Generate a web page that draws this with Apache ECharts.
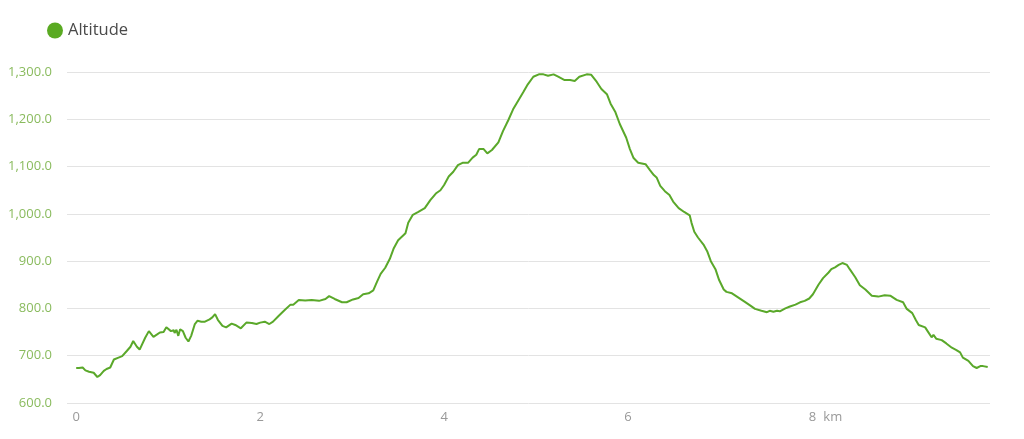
<!DOCTYPE html>
<html>
<head>
<meta charset="utf-8">
<script src="https://cdn.jsdelivr.net/npm/echarts@6/dist/echarts.min.js"></script>
<style>
html,body{margin:0;padding:0;background:#fff;}
#chart{width:1024px;height:439px;}
</style>
</head>
<body>
<div id="chart"></div>
<script>
var seriesName = 'Altitude';
var distanceKm = [
0.00,0.03,0.07,0.10,0.14,0.16,0.19,0.23,0.26,0.30,0.33,0.37,0.41,0.42,0.46,0.50,0.52,0.55,0.59,0.62,
0.66,0.69,0.71,0.75,0.79,0.81,0.84,0.88,0.91,0.95,0.98,1.00,1.03,1.06,1.07,1.09,1.11,1.13,1.16,1.19,
1.22,1.25,1.29,1.32,1.36,1.40,1.45,1.48,1.51,1.54,1.59,1.63,1.69,1.73,1.79,1.85,1.91,1.96,2.00,2.05,
2.10,2.14,2.20,2.27,2.33,2.36,2.42,2.49,2.56,2.64,2.71,2.75,2.81,2.89,2.94,3.01,3.07,3.12,3.18,3.23,
3.27,3.31,3.36,3.41,3.45,3.50,3.58,3.61,3.66,3.72,3.79,3.85,3.91,3.96,4.00,4.05,4.10,4.15,4.20,4.26,
4.31,4.35,4.38,4.43,4.47,4.52,4.59,4.64,4.70,4.75,4.81,4.86,4.91,4.97,5.03,5.08,5.13,5.19,5.24,5.31,
5.37,5.42,5.47,5.55,5.60,5.66,5.71,5.77,5.81,5.86,5.91,5.98,6.02,6.06,6.11,6.19,6.24,6.28,6.31,6.35,
6.40,6.45,6.49,6.55,6.61,6.67,6.69,6.72,6.76,6.82,6.86,6.90,6.95,6.99,7.04,7.07,7.13,7.20,7.27,7.33,
7.38,7.45,7.51,7.54,7.58,7.62,7.65,7.71,7.76,7.82,7.87,7.92,7.97,8.01,8.07,8.12,8.18,8.21,8.25,8.29,
8.33,8.38,8.41,8.47,8.52,8.58,8.65,8.72,8.79,8.85,8.92,8.99,9.03,9.09,9.13,9.16,9.23,9.26,9.30,9.32,
9.35,9.41,9.46,9.52,9.57,9.61,9.64,9.70,9.75,9.79,9.83,9.86,9.91
];
var altitudeM = [
674,674,675,669,666,667,664,655,659,668,672,675,692,696,696,699,699,710,719,731,
719,713,717,738,752,749,740,745,749,750,760,757,752,754,748,755,742,756,752,738,
730,742,767,774,772,772,777,781,788,776,763,760,768,765,758,770,769,767,770,772,
767,772,784,797,808,808,818,817,818,816,820,826,820,813,813,819,822,830,832,838,
856,873,886,905,926,944,959,981,998,1004,1012,1029,1043,1050,1061,1079,1089,1103,1108,1108,
1119,1125,1137,1137,1128,1135,1151,1175,1199,1221,1241,1257,1274,1290,1295,1295,1292,1295,1290,1283,
1283,1281,1290,1295,1294,1279,1264,1253,1233,1216,1190,1161,1137,1118,1108,1105,1092,1082,1077,1059,
1048,1040,1026,1012,1004,997,981,962,950,935,921,900,883,860,840,835,832,823,814,806,
799,795,792,795,793,795,794,800,804,808,813,816,821,830,850,864,876,883,887,892,
896,892,883,866,849,840,827,825,828,827,818,813,799,790,775,765,760,751,739,744,
736,733,726,717,712,707,696,689,678,674,678,678,676
];
var xTickValues = [0, 2, 4, 6, 8];
var xUnit = 'km';
var yMin = 600, yMax = 1300, yStep = 100;

var points = distanceKm.map(function (d, i) { return [d, altitudeM[i]]; });

var chart = echarts.init(document.getElementById('chart'), null, {renderer: 'canvas'});
chart.setOption({
  animation: false,
  backgroundColor: '#ffffff',
  textStyle: {fontFamily: 'Open Sans'},
  legend: {
    left: 42, top: 17,
    icon: 'circle', itemWidth: 16, itemHeight: 16, itemGap: 10,
    textStyle: {fontSize: 16.5, color: '#4a4a4a', fontFamily: 'Open Sans'},
    data: [seriesName]
  },
  grid: {left: 67, right: 34, top: 72, bottom: 36},
  xAxis: {
    type: 'value',
    min: -0.1, max: 9.935,
    axisLine: {show: false},
    axisTick: {show: false},
    splitLine: {show: false},
    axisLabel: {
      customValues: xTickValues,
      color: '#999', fontSize: 13, margin: 8,
      formatter: function (v) {
        return v === 8 ? '{h|}' + v + '{k|' + xUnit + '}' : String(v);
      },
      rich: {
        h: {width: 27},
        k: {padding: [0, 0, 0, 7], color: '#999', fontSize: 13}
      }
    }
  },
  yAxis: {
    type: 'value',
    min: yMin, max: yMax, interval: yStep,
    axisLine: {show: false},
    axisTick: {show: false},
    splitLine: {lineStyle: {color: '#e3e3e3', width: 1}},
    axisLabel: {
      color: '#8abb5e', fontSize: 13, margin: 15,
      formatter: function (v) {
        return v.toLocaleString('en-US', {minimumFractionDigits: 1, maximumFractionDigits: 1});
      }
    }
  },
  series: [{
    name: seriesName,
    type: 'line',
    data: points,
    showSymbol: false,
    symbol: 'circle',
    smooth: false,
    color: '#5aaa22',
    lineStyle: {color: '#5aa82a', width: 2}
  }]
});
</script>
</body>
</html>
